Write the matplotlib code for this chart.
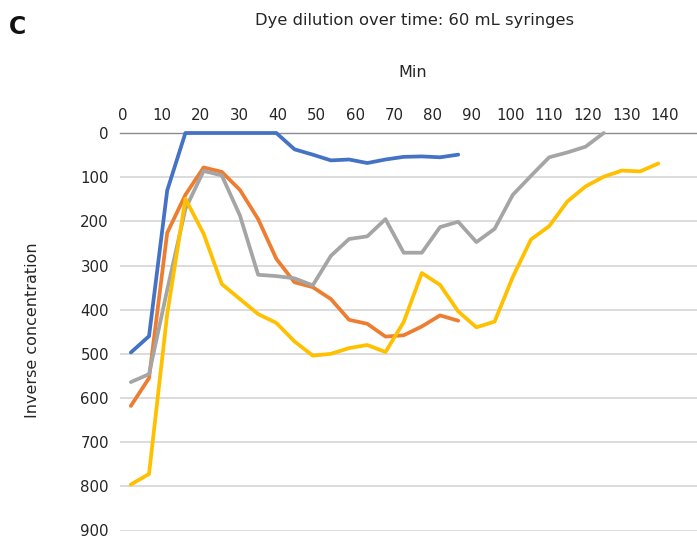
import matplotlib
matplotlib.use('Agg')
import matplotlib.pyplot as plt

# time points (min)
minutes = [2, 6.7, 11.4, 16.1, 20.8, 25.5, 30.2, 34.9, 39.6, 44.3,
           49, 53.7, 58.4, 63.1, 67.8, 72.5, 77.2, 81.9, 86.6, 91.3,
           96, 100.7, 105.4, 110.1, 114.8, 119.5, 124.2, 128.9, 133.6, 138.3]

# inverse concentration for the four syringes
blue = [497, 460, 130, 0, 0, 0, 0, 0, 0, 37, 49, 62, 60, 68, 60, 54, 53, 55, 49]
orange = [618, 555, 226, 140, 78, 88, 129, 195, 285, 338, 349, 376, 423, 432,
          461, 458, 438, 413, 425]
gray = [564, 546, 355, 172, 86, 96, 187, 321, 324, 329, 345, 278, 240, 234,
        195, 271, 271, 213, 201, 247, 217, 140, 97, 55, 44, 31, 0]
yellow = [796, 772, 410, 149, 228, 342, 376, 410, 430, 472, 504, 500, 487, 480,
          496, 428, 317, 344, 404, 440, 427, 326, 241, 211, 155, 121, 99, 85, 87, 69]

xticks = list(range(0, 150, 10))
yticks = list(range(0, 1000, 100))

plt.rcParams['font.family'] = ['DejaVu Sans']

fig = plt.figure(figsize=(6.97, 5.38), dpi=100)
ax = fig.add_axes([120 / 697, 7.5 / 538, 577 / 697, 397.5 / 538])

series = [(blue, '#4472C4'), (orange, '#ED7D31'), (gray, '#A5A5A5'), (yellow, '#FFC000')]
for vals, col in series:
    ax.plot(minutes[:len(vals)], vals, color=col, lw=2.7,
            solid_joinstyle='round', solid_capstyle='round', clip_on=False, zorder=3)

ax.set_xlim(-0.8, 148.3)
ax.set_ylim(900, 0)
ax.set_xticks(xticks)
ax.set_yticks(yticks)
ax.xaxis.tick_top()
ax.tick_params(axis='x', length=0, pad=7, labelsize=10.8, colors='#262626')
ax.tick_params(axis='y', length=0, pad=8, labelsize=10.8, colors='#262626')
ax.grid(axis='y', color='#D9D9D9', lw=1.3, zorder=0)
for s in ['left', 'right', 'bottom']:
    ax.spines[s].set_visible(False)
ax.spines['top'].set_color('#8C8C8C')
ax.spines['top'].set_linewidth(1.0)

fig.text(415 / 697, 1 - 20 / 538, 'Dye dilution over time: 60 mL syringes',
         ha='center', va='center', fontsize=11.8, color='#262626')
fig.text(413 / 697, 1 - 73 / 538, 'Min', ha='center', va='center',
         fontsize=11.5, color='#262626')
fig.text(33 / 697, 1 - 330 / 538, 'Inverse concentration', ha='center',
         va='center', rotation=90, fontsize=11.5, color='#262626')
fig.text(17 / 697, 1 - 27 / 538, 'C', ha='center', va='center',
         fontsize=17, fontweight='bold', color='#111111')

fig.savefig('out.png', dpi=100)
